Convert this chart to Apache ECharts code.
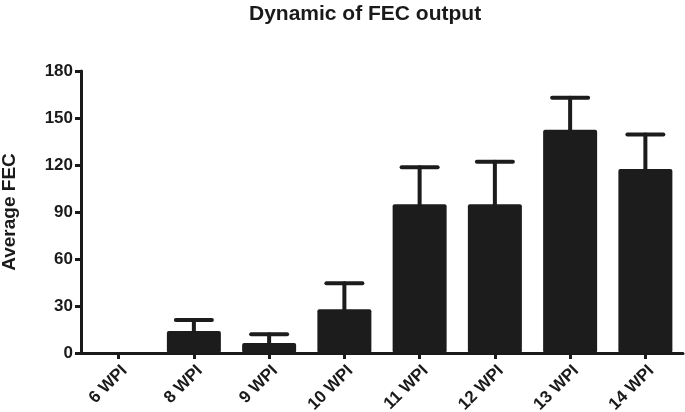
<!DOCTYPE html>
<html><head><meta charset="utf-8">
<script src="https://cdn.jsdelivr.net/npm/echarts@6/dist/echarts.min.js"></script>
<style>html,body{margin:0;padding:0;background:#fff}#c{width:685px;height:412px}</style>
</head><body><div id="c"></div>
<script>
const categories = ['6 WPI','8 WPI','9 WPI','10 WPI','11 WPI','12 WPI','13 WPI','14 WPI'];
const means = [0, 14, 6.4, 28, 95, 95, 142.5, 117.5];
const upperErr = [0, 21, 12, 44.5, 118.5, 122, 163, 139.5];
const yTicks = [0, 30, 60, 90, 120, 150, 180];

const chart = echarts.init(document.getElementById('c'));
const font = 'Liberation Sans, Arial, sans-serif';
chart.setOption({
  animation: false,
  title: {text: 'Dynamic of FEC output', left: 244, top: -1,
    textStyle: {fontFamily: font, fontWeight: 'bold', fontSize: 21, color: '#1a1a1a'}},
  grid: {left: 81, right: 2, top: 71, bottom: 59, containLabel: false, outerBoundsMode: 'none'},
  xAxis: {type: 'category', data: categories,
    axisLine: {lineStyle: {color: '#1a1a1a', width: 3}},
    axisTick: {show: true, alignWithLabel: true, length: 6, lineStyle: {color: '#1a1a1a', width: 3}},
    axisLabel: {rotate: 45, fontFamily: font, fontWeight: 'bold', fontSize: 17, color: '#1a1a1a', margin: 9,
      verticalAlign: 'top'}},
  yAxis: {type: 'value', min: 0, max: 180, interval: 30,
    name: 'Average FEC', nameLocation: 'middle', nameGap: 62,
    nameTextStyle: {fontFamily: font, fontWeight: 'bold', fontSize: 19, color: '#1a1a1a'},
    axisLine: {show: true, lineStyle: {color: '#1a1a1a', width: 3}},
    axisTick: {show: true, length: 6, lineStyle: {color: '#1a1a1a', width: 3}},
    splitLine: {show: false},
    axisLabel: {fontFamily: font, fontWeight: 'bold', fontSize: 17, color: '#1a1a1a', margin: 8,
      formatter: v => yTicks.includes(v) ? String(v) : ''}},
  series: [
    {type: 'bar', data: means, barWidth: 54,
      itemStyle: {color: '#1c1c1c', borderRadius: 2}, z: 2},
    {type: 'custom', z: 3,
      data: categories.map((c, i) => [i, means[i], upperErr[i]]),
      renderItem: function (params, api) {
        const i = api.value(0);
        if (api.value(2) <= api.value(1)) return null;
        const base = api.coord([i, api.value(1)]);
        const top = api.coord([i, api.value(2)]);
        const hw = 18;
        const style = {stroke: '#1c1c1c', lineWidth: 4, lineCap: 'round'};
        return {type: 'group', children: [
          {type: 'line', shape: {x1: base[0], y1: base[1], x2: top[0], y2: top[1]}, style: style},
          {type: 'line', shape: {x1: top[0] - hw, y1: top[1], x2: top[0] + hw, y2: top[1]}, style: style}
        ]};
      }}
  ]
});
</script></body></html>
